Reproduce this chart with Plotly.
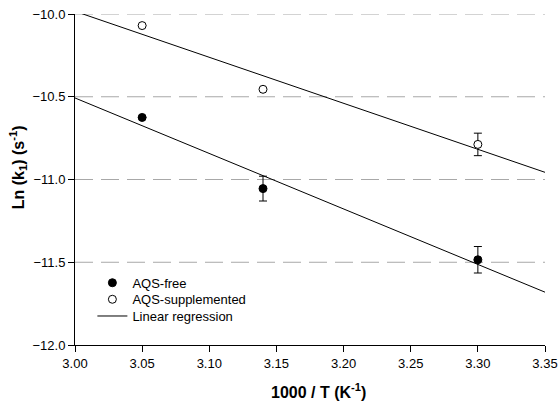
import numpy as np
import plotly.graph_objects as go

# Data
inv_T = [3.05, 3.14, 3.30]
ln_k_free = [-10.625, -11.055, -11.485]
err_free = [0.0, 0.075, 0.08]
ln_k_supp = [-10.07, -10.455, -10.788]
err_supp = [0.0, 0.0, 0.068]
x_ticks = [3.00, 3.05, 3.10, 3.15, 3.20, 3.25, 3.30, 3.35]
y_ticks = [-12.0, -11.5, -11.0, -10.5, -10.0]
grid_levels = [-10.0, -10.5, -11.0, -11.5]

x_fit = np.array([3.00, 3.35])
p_free = np.polyfit(inv_T, ln_k_free, 1)
p_supp = np.polyfit(inv_T, ln_k_supp, 1)

fig = go.Figure()

# dashed horizontal grid lines
for g in grid_levels:
    fig.add_trace(go.Scatter(x=[x_ticks[0], x_ticks[-1]], y=[g, g], mode="lines",
                             line=dict(color="#a8a8a8", width=1, dash="18px,8px"),
                             showlegend=False, hoverinfo="skip"))

fig.add_trace(go.Scatter(x=x_fit, y=np.polyval(p_supp, x_fit), mode="lines",
                         line=dict(color="black", width=1), showlegend=False))
fig.add_trace(go.Scatter(x=x_fit, y=np.polyval(p_free, x_fit), mode="lines",
                         line=dict(color="black", width=1), showlegend=False))

fig.add_trace(go.Scatter(x=inv_T, y=ln_k_free, mode="markers", name="AQS-free",
                         legend="legend",
                         marker=dict(symbol="circle", size=8, color="black",
                                     line=dict(color="black", width=1)),
                         error_y=dict(type="data", array=err_free, visible=True,
                                      color="black", thickness=1, width=4)))
fig.add_trace(go.Scatter(x=inv_T, y=ln_k_supp, mode="markers", name="AQS-supplemented",
                         legend="legend2",
                         marker=dict(symbol="circle", size=8, color="white",
                                     line=dict(color="black", width=1)),
                         error_y=dict(type="data", array=err_supp, visible=True,
                                      color="black", thickness=1, width=4)))
# legend entry for regression
fig.add_trace(go.Scatter(x=[None], y=[None], mode="lines", legend="legend3",
                         line=dict(color="black", width=1), name="Linear regression"))

leg_common = dict(xanchor="left", yanchor="middle", bgcolor="rgba(0,0,0,0)",
                  font=dict(size=13, color="black"))
leg_x = 0.037

fig.update_layout(
    width=559, height=404,
    margin=dict(l=75, r=14, t=14, b=59),
    paper_bgcolor="white", plot_bgcolor="white",
    font=dict(family="Liberation Sans, Arial, sans-serif", size=13, color="black"),
    showlegend=True,
    legend=dict(x=leg_x, y=0.188, **leg_common),
    legend2=dict(x=leg_x, y=0.138, **leg_common),
    legend3=dict(x=leg_x, y=0.0875, **leg_common),
    xaxis=dict(range=[3.00, 3.35], tickvals=x_ticks, tickformat=".2f",
               showgrid=False, zeroline=False, showline=True, linecolor="black",
               linewidth=1, ticks="outside", ticklen=6, tickcolor="black",
               tickfont=dict(size=13), automargin=False, ticklabeloverflow="allow"),
    yaxis=dict(range=[-12.0, -10.0], tickvals=y_ticks, tickformat=".1f",
               showgrid=False, zeroline=False, showline=True, linecolor="black",
               linewidth=1, ticks="outside", ticklen=6, tickcolor="black",
               tickfont=dict(size=13), automargin=False, ticklabeloverflow="allow"),
    annotations=[
        dict(text="<b>1000 / T (K<sup>-1</sup>)</b>", xref="paper", yref="paper",
             x=0.519, y=-0.139, xanchor="center", yanchor="middle", showarrow=False,
             font=dict(size=16, color="black")),
        dict(text="<b>Ln (k<sub>1</sub>) (s<sup>-1</sup>)</b>", xref="paper", yref="paper",
             x=-0.122, y=0.536, xanchor="center", yanchor="middle", showarrow=False,
             textangle=-90, font=dict(size=16, color="black")),
    ],
)

# remove the default page margin so the 559x404 figure fills the window exactly
fig.write_html("out.html",
               config={"displayModeBar": False},
               post_script="document.body.style.margin='0px';document.body.style.overflow='hidden';")
